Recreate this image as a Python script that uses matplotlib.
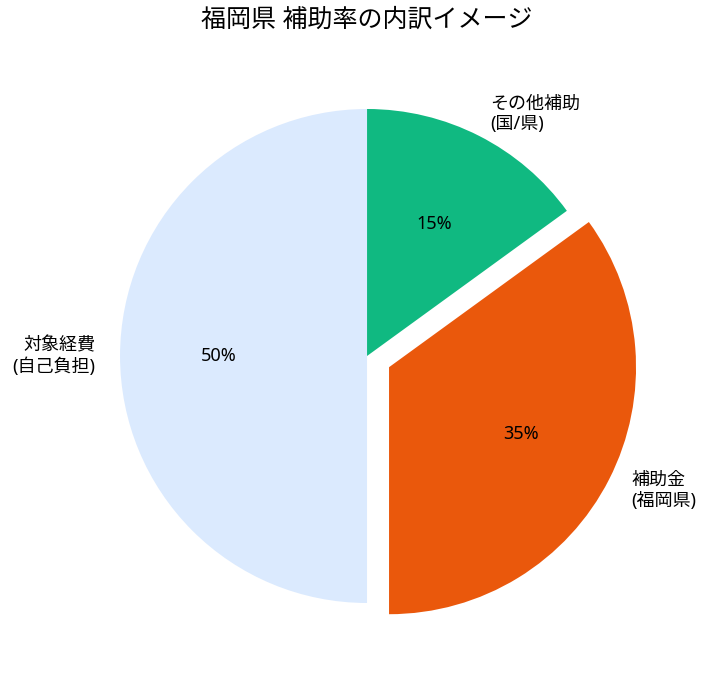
import matplotlib.pyplot as plt

plt.rcParams['font.family'] = ['Noto Sans', 'Noto Sans CJK JP', 'DejaVu Sans']

labels = ["その他補助\n(国/県)", "補助金\n(福岡県)", "対象経費\n(自己負担)"]
sizes = [15, 35, 50]
colors = ["#10B981", "#EA580C", "#DBEAFE"]
explode = [0, 0.1, 0]

fig = plt.figure(figsize=(7.08, 6.75), dpi=100)
ax = fig.add_axes([0.0823, 0.0152, 0.8722, 0.9148])
ax.pie(sizes, labels=labels, colors=colors, explode=explode,
       autopct="%1.0f%%", startangle=90, counterclock=False,
       textprops={"fontsize": 13})
fig.text(0.518, 0.970, "福岡県 補助率の内訳イメージ", fontsize=18,
         ha="center", va="center")
plt.savefig("out.png", dpi=100)
